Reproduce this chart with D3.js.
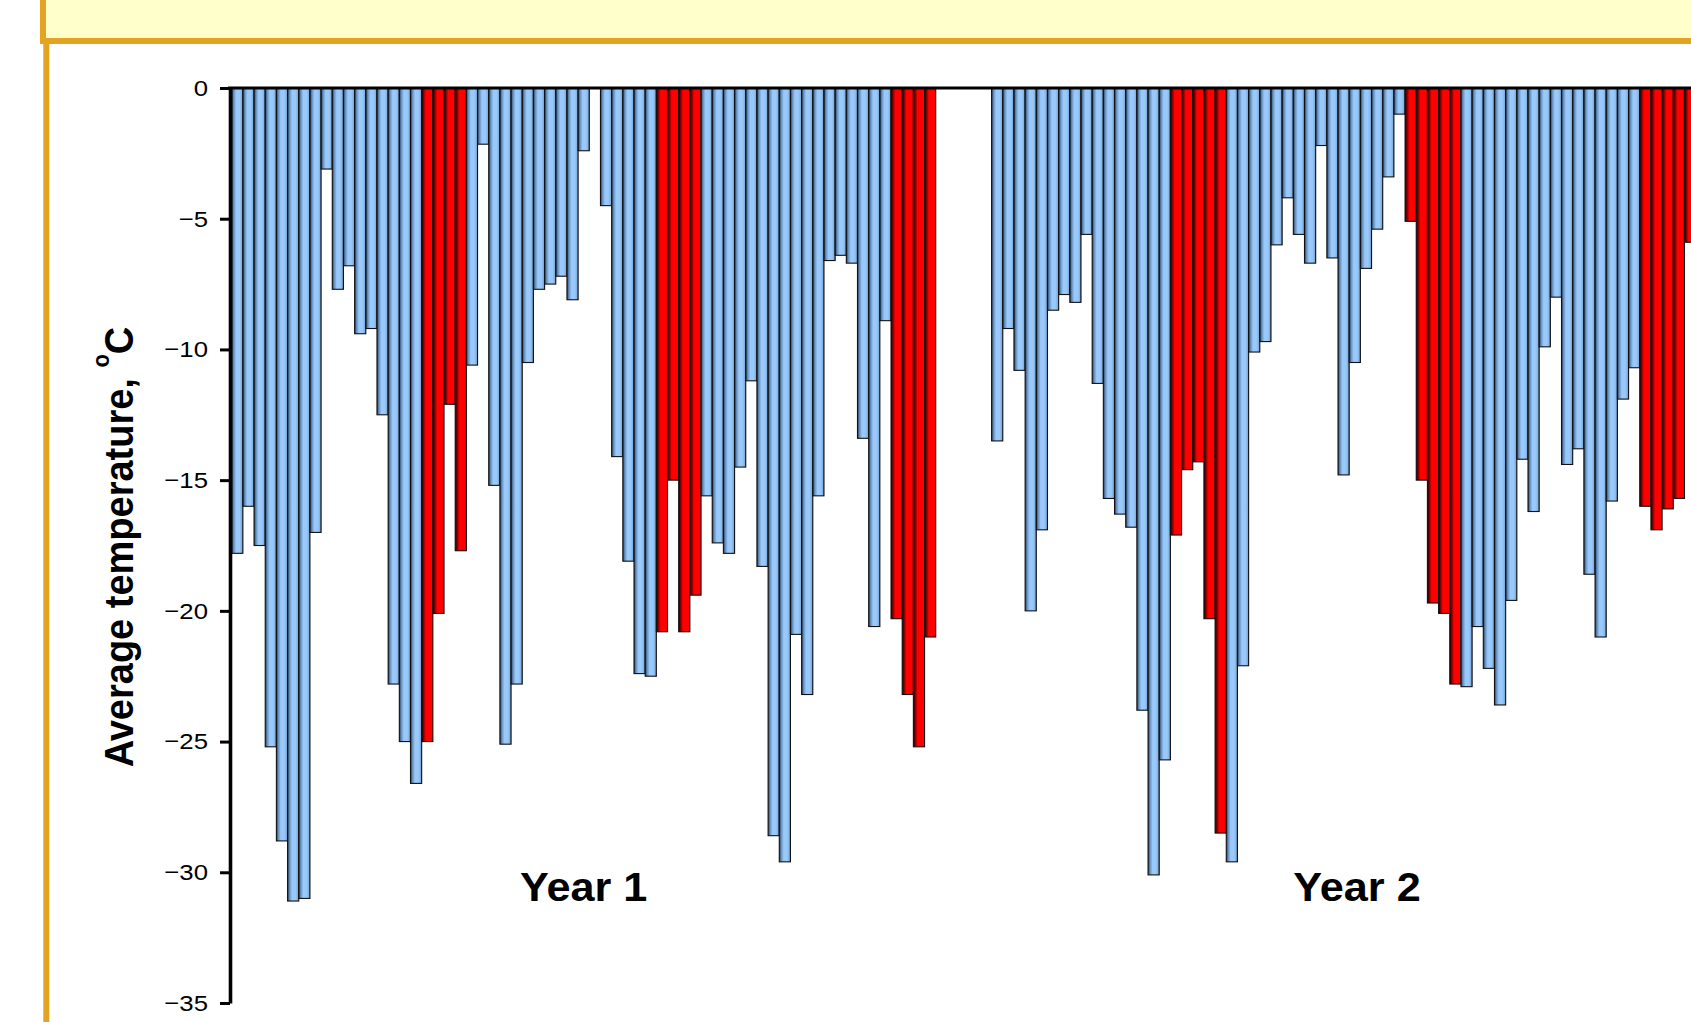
<!DOCTYPE html>
<html>
<head>
<meta charset="utf-8">
<script src="https://cdn.jsdelivr.net/npm/d3@7"></script>
<style>
  body { margin: 0; background: #fff; overflow: hidden; }
  svg { display: block; font-family: "Liberation Sans", Arial, sans-serif; }
</style>
</head>
<body>
<svg id="chart"></svg>
<script>
// Temperatures (null = no bar in that slot)
const year1Temps = [
  -17.8, -16.0, -17.5, -25.2, -28.8, -31.1, -31.0, -17.0, -3.1, -7.7,
  -6.8, -9.4, -9.2, -12.5, -22.8, -25.0, -26.6, -25.0, -20.1, -12.1,
  -17.7, -10.6, -2.15, -15.2, -25.1, -22.8, -10.5, -7.7, -7.5, -7.2,
  -8.1, -2.4, null, -4.5, -14.1, -18.1, -22.4, -22.5, -20.8, -15.0,
  -20.8, -19.4, -15.6, -17.4, -17.8, -14.5, -11.2, -18.3, -28.6, -29.6,
  -20.9, -23.2, -15.6, -6.6, -6.4, -6.7, -13.4, -20.6, -8.9, -20.3,
  -23.2, -25.2, -21.0
];
const year2Temps = [
  -13.5, -9.2, -10.8, -20.0, -16.9, -8.5, -7.9, -8.2, -5.6, -11.3,
  -15.7, -16.3, -16.8, -23.8, -30.1, -25.7, -17.1, -14.6, -14.3, -20.3,
  -28.5, -29.6, -22.1, -10.1, -9.7, -6.0, -4.2, -5.6, -6.7, -2.2,
  -6.5, -14.8, -10.5, -6.9, -5.4, -3.4, -1.0, -5.1, -15.0, -19.7,
  -20.1, -22.8, -22.9, -20.6, -22.2, -23.6, -19.6, -14.2, -16.2, -9.9,
  -8.0, -14.4, -13.8, -18.6, -21.0, -15.8, -11.9, -10.7, -16.0, -16.9,
  -16.1, -15.7, -5.9
];
// bars shown in red (index within each year)
const year1Red = [17, 18, 19, 20, 38, 39, 40, 41, 59, 60, 61, 62];
const year2Red = [16, 17, 18, 19, 20, 37, 38, 39, 40, 41, 58, 59, 60, 61, 62];
const yearLabels = ["Year 1", "Year 2"];
const yTicks = [0, -5, -10, -15, -20, -25, -30, -35];

const W = 1691, H = 1022;
const gapSlots = 5;
const step = 11.175;
const x0 = 231.7;

// one row per slot
const rows = [];
year1Temps.forEach((v, i) => rows.push({ slot: i, value: v, red: year1Red.includes(i) }));
const y2Start = year1Temps.length + gapSlots;
year2Temps.forEach((v, i) => rows.push({ slot: y2Start + i, value: v, red: year2Red.includes(i) }));
const nSlots = y2Start + year2Temps.length;

const svg = d3.select("#chart").attr("width", W).attr("height", H);

const x = d3.scaleBand()
  .domain(d3.range(nSlots))
  .range([x0, x0 + nSlots * step])
  .padding(0);

const y = d3.scaleLinear()
  .domain([-35, 0])
  .range([1003, 88]);

// gradients for the shaded bars
const defs = svg.append("defs");
const blue = defs.append("linearGradient").attr("id", "gBlue");
[[0, "#263d56"], [0.18, "#6590c0"], [0.4, "#99c9fa"], [0.7, "#99c9fa"], [0.9, "#80aedf"], [1, "#425f80"]]
  .forEach(s => blue.append("stop").attr("offset", s[0]).attr("stop-color", s[1]));
const red = defs.append("linearGradient").attr("id", "gRed");
[[0, "#1a0000"], [0.2, "#900000"], [0.38, "#ff0000"], [1, "#ff0000"]]
  .forEach(s => red.append("stop").attr("offset", s[0]).attr("stop-color", s[1]));

// frame: yellow title strip and left rule
svg.append("rect")
  .attr("x", 43).attr("y", -20)
  .attr("width", W).attr("height", 61)
  .attr("fill", "#ffffcc")
  .attr("stroke", "#e4a321")
  .attr("stroke-width", 6);
svg.append("line")
  .attr("x1", 46.3).attr("x2", 46.3)
  .attr("y1", 41).attr("y2", H)
  .attr("stroke", "#e4a321")
  .attr("stroke-width", 6);

// bars
svg.append("g").selectAll("rect")
  .data(rows.filter(d => d.value != null))
  .enter()
  .append("rect")
  .attr("x", d => x(d.slot))
  .attr("y", y(0))
  .attr("width", x.bandwidth())
  .attr("height", d => y(d.value) - y(0))
  .attr("fill", d => d.red ? "url(#gRed)" : "url(#gBlue)")
  .attr("stroke", "#111")
  .attr("stroke-width", 1.1);

// zero line
svg.append("line")
  .attr("x1", 228).attr("x2", W)
  .attr("y1", y(0)).attr("y2", y(0))
  .attr("stroke", "#000")
  .attr("stroke-width", 3);

// y axis
const yAxis = svg.append("g")
  .attr("transform", "translate(230,0)")
  .call(d3.axisLeft(y).tickValues(yTicks).tickSize(10).tickSizeOuter(0).tickPadding(12));
yAxis.select(".domain").attr("stroke", "#000").attr("stroke-width", 3.6);
yAxis.selectAll(".tick line").attr("stroke", "#000").attr("stroke-width", 3);
// the original labels look a bit stretched sideways
yAxis.selectAll(".tick text")
  .attr("fill", "#000")
  .attr("x", -22 / 1.12)
  .attr("transform", "scale(1.12,1)")
  .style("font-size", "23px")
  .style("font-family", "'Liberation Sans', Arial, sans-serif");

// axis title
const title = svg.append("text")
  .attr("transform", "translate(133,547) rotate(-90) scale(1,1.08)")
  .attr("text-anchor", "middle")
  .style("font-size", "38px")
  .style("font-weight", "bold");
title.append("tspan").text("Average temperature, ");
title.append("tspan").attr("dy", -22).style("font-size", "22px").text("o");
title.append("tspan").attr("dy", 22).text("C");

// year labels
const labelSlots = [31.5, 100.7];
svg.append("g").selectAll("text")
  .data(yearLabels)
  .enter()
  .append("text")
  .attr("transform", (d, i) => `translate(${x0 + labelSlots[i] * step},901) scale(1.08,1)`)
  .attr("text-anchor", "middle")
  .style("font-size", "40px")
  .style("font-weight", "bold")
  .text(d => d);
</script>
</body>
</html>
